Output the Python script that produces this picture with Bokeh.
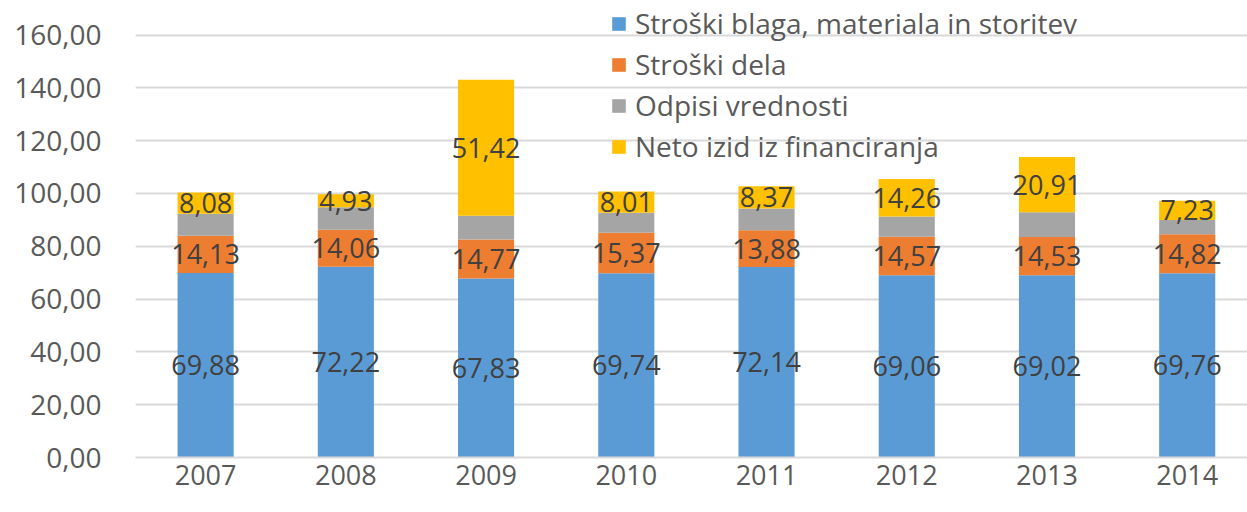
from bokeh.plotting import figure
from bokeh.models import ColumnDataSource, Range1d, FixedTicker, Legend, LegendItem
from bokeh.core.properties import value
from bokeh.embed import file_html
from bokeh.resources import INLINE

years = ["2007", "2008", "2009", "2010", "2011", "2012", "2013", "2014"]
blaga = [69.88, 72.22, 67.83, 69.74, 72.14, 69.06, 69.02, 69.76]
dela = [14.13, 14.06, 14.77, 15.37, 13.88, 14.57, 14.53, 14.82]
odpisi = [8.3, 8.5, 9.0, 7.6, 8.3, 7.6, 9.3, 5.4]
neto = [8.08, 4.93, 51.42, 8.01, 8.37, 14.26, 20.91, 7.23]
series_names = ["Stroški blaga, materiala in storitev", "Stroški dela",
                "Odpisi vrednosti", "Neto izid iz financiranja"]
colors = ["#5B9BD5", "#ED7D31", "#A5A5A5", "#FFC000"]
y_ticks = [0, 20, 40, 60, 80, 100, 120, 140, 160]
y_tick_labels = ["0,00", "20,00", "40,00", "60,00", "80,00", "100,00", "120,00", "140,00", "160,00"]

FONT = "Open Sans"
xs = list(range(len(years)))
src = ColumnDataSource(dict(x=xs, blaga=blaga, dela=dela, odpisi=odpisi, neto=neto))

# frame spans the full top so the legend above the 160 gridline is not clipped
p = figure(width=1247, height=512, output_backend="svg", toolbar_location=None,
           x_range=Range1d(-0.5, 7.43), y_range=Range1d(0, 173.07),
           min_border_left=135, min_border_right=0, min_border_top=0, min_border_bottom=55)
p.outline_line_color = None

keys = ["blaga", "dela", "odpisi", "neto"]
rs = p.vbar_stack(keys, x="x", width=0.4, source=src, color=colors, line_color=None)

# data labels
lab_x, lab_y, lab_t = [], [], []
for i in range(len(years)):
    base = 0.0
    for k, arr in zip(keys, [blaga, dela, odpisi, neto]):
        v = arr[i]
        if k != "odpisi":
            lab_x.append(i)
            lab_y.append(base + v / 2)
            lab_t.append(f"{v:.2f}".replace(".", ","))
        base += v
p.text(x=lab_x, y=lab_y, text=lab_t, text_align="center", text_baseline="middle",
       text_font=value(FONT), text_font_size="27px", text_color="#404040")

# axes
p.xaxis.ticker = FixedTicker(ticks=xs)
p.xaxis.major_label_overrides = {i: y for i, y in enumerate(years)}
p.xaxis.axis_line_color = "#D9D9D9"
p.xaxis.axis_line_width = 2
p.xaxis.major_tick_line_color = None
p.xaxis.minor_tick_line_color = None
p.xaxis.major_label_text_font = FONT
p.xaxis.major_label_text_font_size = "27px"
p.xaxis.major_label_text_color = "#595959"
p.xaxis.major_label_standoff = 1

p.yaxis.ticker = FixedTicker(ticks=y_ticks)
p.yaxis.major_label_overrides = {t: l for t, l in zip(y_ticks, y_tick_labels)}
p.yaxis.axis_line_color = None
p.yaxis.major_tick_line_color = None
p.yaxis.minor_tick_line_color = None
p.yaxis.major_label_text_font = FONT
p.yaxis.major_label_text_font_size = "28px"
p.yaxis.major_label_text_color = "#595959"
p.yaxis.major_label_standoff = 28

p.xgrid.grid_line_color = None
p.ygrid.grid_line_color = "#D9D9D9"
p.ygrid.grid_line_width = 2

legend = Legend(items=[LegendItem(label=n, renderers=[r]) for n, r in zip(series_names, rs)],
                location=(475, 292), orientation="vertical",
                label_text_font=FONT, label_text_font_size="28px", label_text_color="#595959",
                glyph_width=17, glyph_height=17, label_standoff=8, spacing=3,
                padding=0, margin=0, border_line_color=None, background_fill_alpha=0)
p.add_layout(legend, "center")

open("out.html", "w").write(file_html(p, INLINE))
